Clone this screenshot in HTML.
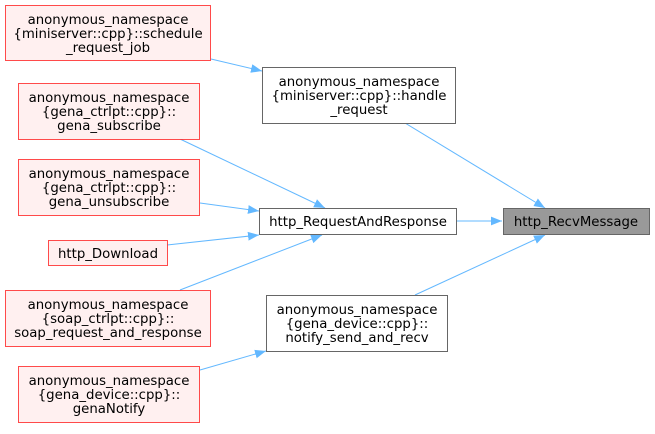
<!DOCTYPE html>
<html><head><style>
html,body{margin:0;padding:0;background:#fff;}
text{font-family:"DejaVu Sans","Liberation Sans",sans-serif;font-size:13.3px;fill:#000;}
</style></head><body>
<svg width="655" height="429" viewBox="0 0 655 429" xmlns="http://www.w3.org/2000/svg">
<defs>
<marker id="a" viewBox="0 0 10 10" refX="10" refY="5" markerWidth="11" markerHeight="11" markerUnits="userSpaceOnUse" orient="auto">
<path d="M0,1 L10,5 L0,9 z" fill="#63b8ff"/>
</marker>
</defs>
<g stroke="#63b8ff" stroke-width="1" fill="none" marker-end="url(#a)">
<path d="M211,59 L262,71"/>
<path d="M405,123 L545,208"/>
<path d="M180,139 L325,208"/>
<path d="M200,203 L259,211"/>
<path d="M167,245 L259,235"/>
<path d="M180,290 L322,235"/>
<path d="M457,221 L502,221"/>
<path d="M415,295 L545,235"/>
<path d="M200,370 L266,351"/>
</g>
<g stroke-width="1">
<rect x="5.5" y="5.5" width="205" height="55" fill="#fff0f0" stroke="#ff0000" stroke-opacity="0.7"/>
<rect x="262.5" y="67.5" width="193" height="56" fill="#fff" stroke="#666"/>
<rect x="18.5" y="83.5" width="181" height="56" fill="#fff0f0" stroke="#ff0000" stroke-opacity="0.7"/>
<rect x="18.5" y="159.5" width="181" height="56" fill="#fff0f0" stroke="#ff0000" stroke-opacity="0.7"/>
<rect x="48.5" y="240.5" width="119" height="25" fill="#fff0f0" stroke="#ff0000" stroke-opacity="0.7"/>
<rect x="259.5" y="208.5" width="197" height="26" fill="#fff" stroke="#666"/>
<rect x="503.5" y="208.5" width="146" height="26" fill="#999" stroke="#666"/>
<rect x="5.5" y="290.5" width="205" height="56" fill="#fff0f0" stroke="#ff0000" stroke-opacity="0.7"/>
<rect x="266.5" y="295.5" width="181" height="56" fill="#fff" stroke="#666"/>
<rect x="18.5" y="366.5" width="181" height="56" fill="#fff0f0" stroke="#ff0000" stroke-opacity="0.7"/>
</g>
<g text-anchor="middle">
<text x="108" y="24">anonymous_namespace</text>
<text x="108" y="38">{miniserver::cpp}::schedule</text>
<text x="108" y="52">_request_job</text>
<text x="359" y="86">anonymous_namespace</text>
<text x="359" y="100">{miniserver::cpp}::handle</text>
<text x="359" y="114">_request</text>
<text x="109" y="102">anonymous_namespace</text>
<text x="109" y="116">{gena_ctrlpt::cpp}::</text>
<text x="109" y="130">gena_subscribe</text>
<text x="109" y="178">anonymous_namespace</text>
<text x="109" y="192">{gena_ctrlpt::cpp}::</text>
<text x="109" y="206">gena_unsubscribe</text>
<text x="108" y="258">http_Download</text>
<text x="358" y="226">http_RequestAndResponse</text>
<text x="576" y="226">http_RecvMessage</text>
<text x="108" y="309">anonymous_namespace</text>
<text x="108" y="323">{soap_ctrlpt::cpp}::</text>
<text x="108" y="337">soap_request_and_response</text>
<text x="357" y="314">anonymous_namespace</text>
<text x="357" y="328">{gena_device::cpp}::</text>
<text x="357" y="342">notify_send_and_recv</text>
<text x="109" y="385">anonymous_namespace</text>
<text x="109" y="399">{gena_device::cpp}::</text>
<text x="109" y="413">genaNotify</text>
</g>
</svg>
</body></html>
